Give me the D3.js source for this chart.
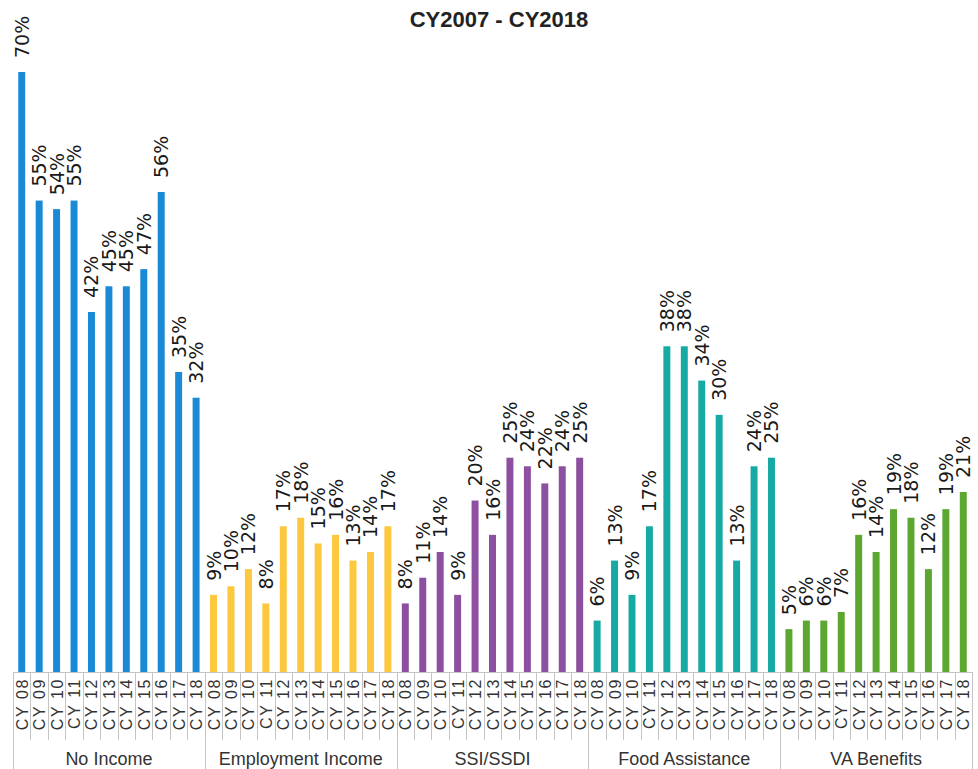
<!DOCTYPE html>
<html>
<head>
<meta charset="utf-8">
<script src="https://cdn.jsdelivr.net/npm/d3@7"></script>
<style>
  html, body { margin: 0; padding: 0; background: #fff; }
  svg { display: block; }
</style>
</head>
<body>
<div id="chart"></div>
<script>
// Income source groups and the calendar years shown in each
const groups = ["No Income", "Employment Income", "SSI/SSDI", "Food Assistance", "VA Benefits"];
const years = ["CY 08", "CY 09", "CY 10", "CY 11", "CY 12", "CY 13", "CY 14", "CY 15", "CY 16", "CY 17", "CY 18"];

// Percent of clients per group and year
const noIncome         = [70, 55, 54, 55, 42, 45, 45, 47, 56, 35, 32];
const employmentIncome = [9, 10, 12, 8, 17, 18, 15, 16, 13, 14, 17];
const ssiSsdi          = [8, 11, 14, 9, 20, 16, 25, 24, 22, 24, 25];
const foodAssistance   = [6, 13, 9, 17, 38, 38, 34, 30, 13, 24, 25];
const vaBenefits       = [5, 6, 6, 7, 16, 14, 19, 18, 12, 19, 21];

const groupColors = ["#1b8ad6", "#fdc73e", "#8d4f9f", "#17aaa5", "#5ba72f"];
const title = "CY2007 - CY2018";

const seriesValues = [noIncome, employmentIncome, ssiSsdi, foodAssistance, vaBenefits];

// Flatten into one row per bar
const rows = [];
groups.forEach((g, gi) => {
  years.forEach((y, yi) => {
    rows.push({ key: g + "|" + y, group: g, gi, year: y, value: seriesValues[gi][yi] });
  });
});

const W = 978, H = 769;
const left = 13, right = 972, baseY = 672, topY = 72;

const svg = d3.select("#chart").append("svg")
  .attr("width", W).attr("height", H);

const x = d3.scaleBand()
  .domain(rows.map(d => d.key))
  .range([left, right])
  .paddingInner(0.6)
  .paddingOuter(0.3);

const step = (right - left) / rows.length;

const y = d3.scaleLinear().domain([0, 70]).range([baseY, topY]);

// Title
svg.append("text")
  .attr("x", 499).attr("y", 27)
  .attr("text-anchor", "middle")
  .attr("font-family", "Liberation Sans, Arial, sans-serif")
  .attr("font-weight", "bold")
  .attr("font-size", 22)
  .attr("fill", "#222")
  .text(title);

// Category axis: separators between years, longer ones between groups
const axisG = svg.append("g").attr("stroke", "#c4c4c4").attr("stroke-width", 1);
axisG.append("line")
  .attr("x1", left).attr("x2", right)
  .attr("y1", baseY + 0.5).attr("y2", baseY + 0.5);

for (let i = 0; i <= rows.length; i++) {
  const xx = Math.round(left + i * step) + 0.5;
  const isGroupEdge = i % years.length === 0;
  axisG.append("line")
    .attr("x1", xx).attr("x2", xx)
    .attr("y1", baseY)
    .attr("y2", isGroupEdge ? H : 740);
}

// Year tick labels, rotated
svg.append("g").selectAll("text")
  .data(rows)
  .join("text")
  .attr("transform", d => `translate(${x(d.key) + x.bandwidth() / 2 + 6},678) rotate(-90)`)
  .attr("text-anchor", "end")
  .attr("font-family", "Liberation Sans, Arial, sans-serif")
  .attr("font-size", 16)
  .attr("letter-spacing", 1.6)
  .attr("fill", "#333")
  .text(d => d.year);

// Group labels
svg.append("g").selectAll("text")
  .data(groups)
  .join("text")
  .attr("x", (g, i) => left + (i + 0.5) * years.length * step)
  .attr("y", 765)
  .attr("text-anchor", "middle")
  .attr("font-family", "Liberation Sans, Arial, sans-serif")
  .attr("font-size", 18)
  .attr("fill", "#333")
  .text(g => g);

// Bars
svg.append("g").selectAll("rect")
  .data(rows)
  .join("rect")
  .attr("x", d => x(d.key))
  .attr("width", x.bandwidth())
  .attr("y", d => y(d.value))
  .attr("height", d => y(0) - y(d.value))
  .attr("fill", d => groupColors[d.gi]);

// Value labels above bars, rotated
svg.append("g").selectAll("text")
  .data(rows)
  .join("text")
  .attr("transform", d => `translate(${x(d.key) + x.bandwidth() / 2 + 7},${y(d.value) - 14}) rotate(-90)`)
  .attr("text-anchor", "start")
  .attr("font-family", "DejaVu Sans, sans-serif")
  .attr("font-size", 19)
  .attr("fill", "#1a1a1a")
  .text(d => d.value + "%");
</script>
</body>
</html>
